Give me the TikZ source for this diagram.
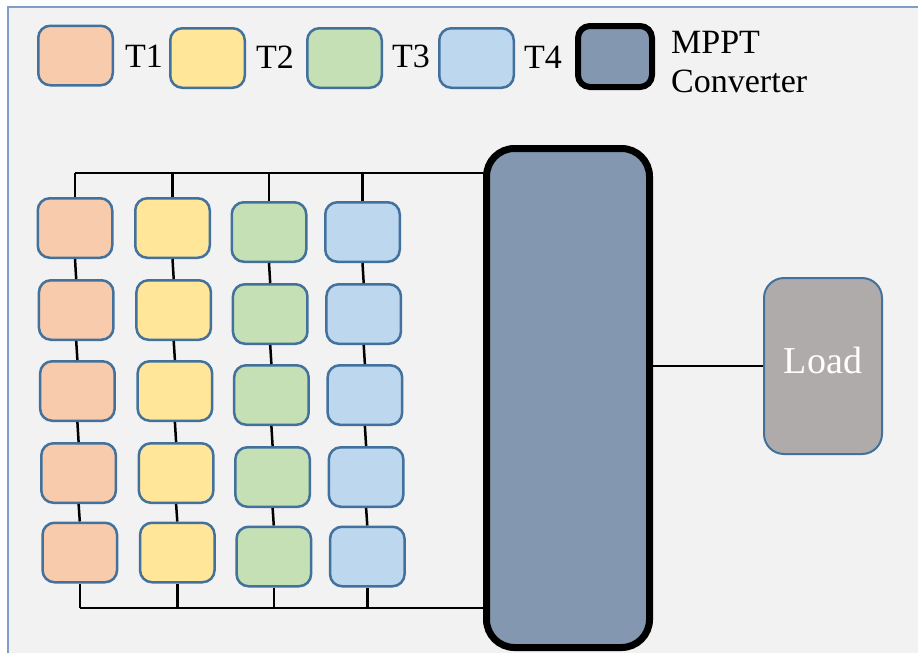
\documentclass[tikz,border=0pt]{standalone}
\usepackage{fontspec}
\setmainfont{Liberation Serif}
\definecolor{cellline}{RGB}{65,113,156}
\definecolor{tone}{RGB}{248,203,173}
\definecolor{ttwo}{RGB}{255,230,153}
\definecolor{tthree}{RGB}{197,224,180}
\definecolor{tfour}{RGB}{189,215,238}
\definecolor{convfill}{RGB}{132,151,176}
\definecolor{loadfill}{RGB}{175,171,171}
\definecolor{panel}{RGB}{242,242,242}
\definecolor{frameline}{RGB}{127,157,198}
\tikzset{
	cell/.style={draw=cellline, line width=2.5pt, rounded corners=12pt, minimum width=74.5pt, minimum height=59.5pt, inner sep=0pt},
	convbox/.style={draw=black, fill=convfill, rounded corners=28pt, inner sep=0pt},
	keytext/.style={anchor=base west, inner sep=0pt, font=\fontsize{34}{39}\selectfont},
	wire/.style={black, line width=2.5pt},
}
\begin{document}
\begin{tikzpicture}[x=1pt, y=-1pt]
	\useasboundingbox (0,0) rectangle (918,653);
	\clip (0,0) rectangle (918,653);
	\fill[white] (0,0) rectangle (918,653);
	\draw[frameline, fill=panel, line width=1.5pt] (8,7) rectangle (940,680);

	\node[cell, fill=tone] (key1) at (75.5,55.5) {};
	\node[keytext] (lab1) at (125,67) {T1};
	\node[cell, fill=ttwo] (key2) at (207.5,58) {};
	\node[keytext] (lab2) at (256,68) {T2};
	\node[cell, fill=tthree] (key3) at (344.5,58) {};
	\node[keytext] (lab3) at (392,67) {T3};
	\node[cell, fill=tfour] (key4) at (476.5,58) {};
	\node[keytext] (lab4) at (524,68) {T4};
	\node[convbox, line width=6pt, rounded corners=12pt, minimum width=74pt, minimum height=61pt] (keyconv) at (615,56.5) {};
	\node[keytext] (labmppt) at (671,53) {MPPT};
	\node[keytext] (labconv) at (671,92) {Converter};

	\foreach \c/\x/\col/\dy in {1/75/tone/0, 2/172.5/ttwo/0, 3/269/tthree/4, 4/362.5/tfour/4}
		\foreach \r/\y in {1/228, 2/310, 3/391, 4/473, 5/552.5}
			\node[cell, fill=\col] (t\c\r) at ({\x+1.2*(\r-1)}, {\y+\dy}) {};

	\node[convbox, line width=7pt, minimum width=163pt, minimum height=499pt] (conv) at (568,398) {};
	\node[draw=cellline, line width=2pt, fill=loadfill, rounded corners=20pt, inner sep=0pt, minimum width=118pt, minimum height=176pt, text depth=12pt, text=white, font=\fontsize{38}{40}\selectfont] (load) at (823,366) {Load};

	\coordinate (topbus) at (0,173);
	\coordinate (botbus) at (0,608);

	\foreach \c in {1,...,4}
		\foreach \r/\n in {1/2, 2/3, 3/4, 4/5}
			\draw[wire] (t\c\r.south) -- (t\c\n.north);

	\draw[wire] (t11.north |- topbus) -- (conv.west |- topbus);
	\draw[wire] (t15.south |- botbus) -- (conv.west |- botbus);
	\foreach \c in {1,...,4} {
		\draw[wire] (t\c1.north) -- (t\c1.north |- topbus);
		\draw[wire] (t\c5.south) -- (t\c5.south |- botbus);
	}

	\draw[black, line width=1.6pt] (conv.east |- load.west) -- (load.west);
\end{tikzpicture}
\end{document}
